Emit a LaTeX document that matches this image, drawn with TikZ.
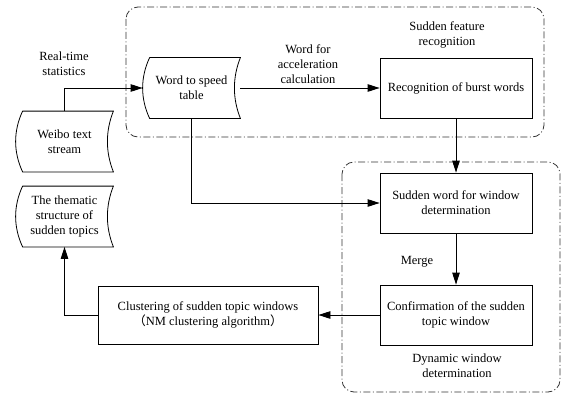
\documentclass[tikz,border=0pt]{standalone}
\usepackage{fontspec}
\setmainfont{Liberation Serif}
\newfontfamily\cjk{Noto Sans CJK SC}
\usepackage{tikz}
\usetikzlibrary{positioning, arrows.meta, calc}

% outline of a stored-data block (curved sides)
\newcommand{\storedoutline}[1]{%
  \draw ($(#1.north west)+(7,0)$) coordinate (#1-tl) -- (#1.north east)
    .. controls +(-8,20) and +(-8,-20) .. (#1.south east)
    -- ($(#1.south west)+(7,0)$) coordinate (#1-bl)
    .. controls +(-9.3,-20) and +(-9.3,20) .. (#1-tl);}

\begin{document}
\begin{tikzpicture}[x=1pt, y=-1pt, line width=0.8pt,
  font=\fontsize{12.5}{15}\selectfont,
  box/.style={rectangle, draw, minimum width=152pt, minimum height=60pt, align=center, inner sep=2pt},
  stored/.style={rectangle, minimum width=97pt, minimum height=60pt, align=center, inner sep=2pt},
  lbl/.style={align=center, inner sep=0pt},
  group/.style={draw=black!80, rounded corners=12pt, line width=0.8pt, dash pattern=on 7pt off 2.5pt on 1pt off 2.5pt},
  arr/.style={-{Triangle[length=12pt,width=7.5pt]}}]
\useasboundingbox (0,0) rectangle (561,393);

% dash-dot groups
\draw[group] (126,7) rectangle (544,137);
\draw[group] (342,162) rectangle (560,392);

% blocks
\node[stored] (weibo) at (64.5,141.5) {Weibo text\\stream};
\node[stored] (theme) at (64.5,216.5) {The thematic\\structure of\\sudden topics};
\node[stored] (speed) at (191.5,88) {Word to speed\\table};
\storedoutline{weibo}
\storedoutline{theme}
\storedoutline{speed}

\node[box] (recog) at (456,88) {Recognition of burst words};
\node[box] (window) at (456,203) {Sudden word for window\\determination};
\node[box] (confirm) at (456,315) {Confirmation of the sudden\\topic window};
\node[box, minimum width=220pt, minimum height=58pt] (cluster) at (208,315) {Clustering of sudden topic windows\\{\cjk （}NM clustering algorithm{\cjk ）}};

% labels
\node[lbl] (realtime) at (64,64) {Real-time\\statistics};
\node[lbl] (accel) at (308,64) {Word for\\acceleration\\calculation};
\node[lbl] (feature) at (447,35) {Sudden feature\\recognition};
\node[lbl] (merge) at (417,262) {Merge};
\node[lbl] (dynamic) at (457,366) {Dynamic window\\determination};

% connectors
\draw[arr] (weibo.north) |- (speed.west);
\draw[arr] (speed.east) -- (recog.west);
\draw[arr] (recog.south) -- (window.north);
\draw[arr] (speed.south) |- (window.west);
\draw[arr] (window.south) -- (confirm.north);
\draw[arr] (confirm.west) -- (cluster.east);
\draw[arr] (cluster.west) -| (theme.south);
\end{tikzpicture}
\end{document}
